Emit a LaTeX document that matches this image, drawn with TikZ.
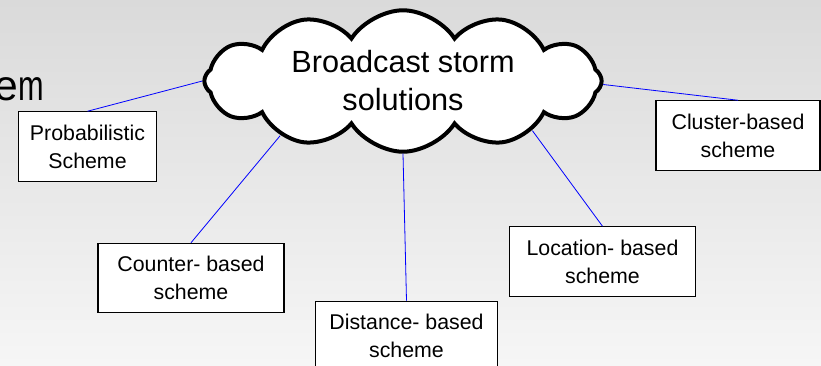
\documentclass[tikz,border=0pt]{standalone}
\usepackage{fontspec}
\setmainfont{Liberation Sans}
\usetikzlibrary{shapes.symbols,positioning}

\definecolor{slidetop}{RGB}{218,218,218}
\definecolor{slidebottom}{RGB}{246,246,246}

\begin{document}
\begin{tikzpicture}[x=0.75pt,y=-0.75pt,semithick]
  \tikzstyle{scheme}=[draw=black,fill=white,line width=0.9pt,align=center,
    font=\fontsize{16}{21}\selectfont,minimum height=52pt,inner sep=0pt]
  \tikzstyle{link}=[draw=blue,line width=0.6pt]

  % slide background
  \useasboundingbox (0,0) rectangle (821,365);
  \shade[top color=slidetop,bottom color=slidebottom] (0,0) rectangle (821,365);
  \node[anchor=base east,inner sep=0pt,font=\fontsize{32}{32}\selectfont] (title) at (44,100)
    {\scalebox{1}[1]{e}\scalebox{0.72}[1]{m}};

  \node[cloud,draw=black,fill=white,line width=3pt,cloud puffs=12,cloud puff arc=115,
    cloud ignores aspect,minimum width=298pt,minimum height=103pt,align=center,
    font=\fontsize{23}{28.5}\selectfont] (storm) at (403,81) {Broadcast storm\\solutions};

  \node[scheme,minimum width=103pt] (prob)     at (87.5,146.5) {Probabilistic\\Scheme};
  \node[scheme,minimum width=139.5pt] (counter) at (191,278)   {Counter- based\\scheme};
  \node[scheme,minimum width=136pt] (distance) at (406.5,336) {Distance- based\\scheme};
  \node[scheme,minimum width=140pt] (location) at (602.5,261.5) {Location- based\\scheme};
  \node[scheme,minimum width=123pt] (cluster)  at (738,135.5) {Cluster-based\\scheme};

  \path[link]
  (prob.north) -- (storm.180.5)
  (counter.north) -- (storm.204)
  (distance.north) -- (storm.270)
  (location.north) -- (storm.339)
  (cluster.north) -- (storm.359.5);
\end{tikzpicture}
\end{document}
